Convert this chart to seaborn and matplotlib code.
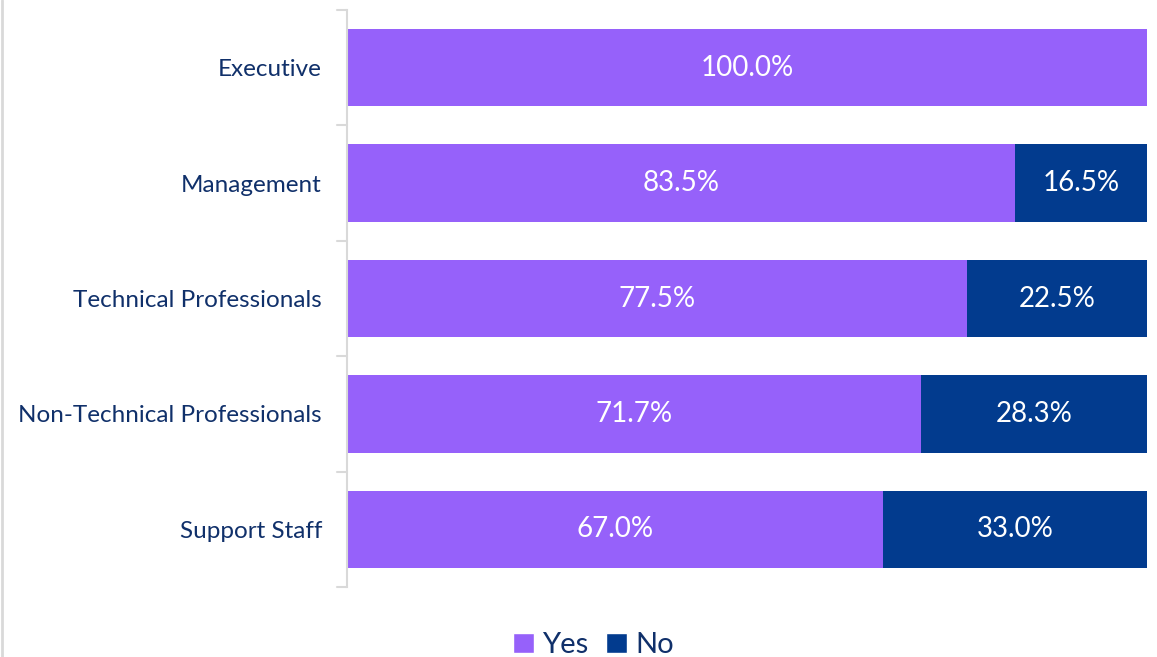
import matplotlib
matplotlib.use("Agg")
import matplotlib.pyplot as plt
from matplotlib.lines import Line2D
from matplotlib.patches import Patch
import seaborn as sns
import pandas as pd

categories = ["Executive", "Management", "Technical Professionals",
              "Non-Technical Professionals", "Support Staff"]
yes_pct = [100.0, 83.5, 77.5, 71.7, 67.0]
no_pct = [0.0, 16.5, 22.5, 28.3, 33.0]

PURPLE = "#9661FA"
NAVY = "#023B8E"
TEXT = "#10306A"
GRID = "#D9D9D9"

sns.set_theme(style="white")
plt.rcParams["font.family"] = ["Lato", "DejaVu Sans"]

df = pd.DataFrame({"category": categories, "Yes": yes_pct, "No": no_pct})
df["total"] = df["Yes"] + df["No"]

fig = plt.figure(figsize=(11.57, 6.57), dpi=100)
ax = fig.add_axes([0.2999, 0.1065, 0.6915, 0.8783])

# Stacked bars: full-length "No" bar underneath, "Yes" bar drawn on top
sns.barplot(data=df, x="total", y="category", color=NAVY, width=0.67,
            saturation=1, linewidth=0, ax=ax, orient="h")
sns.barplot(data=df, x="Yes", y="category", color=PURPLE, width=0.67,
            saturation=1, linewidth=0, ax=ax, orient="h")

ax.set_xlim(0, 100)
ax.set_ylim(len(categories) - 0.5, -0.5)
ax.set_xlabel("")
ax.set_ylabel("")
ax.set_xticks([])

for i, (y, n) in enumerate(zip(yes_pct, no_pct)):
    ax.text(y / 2, i, f"{y:.1f}%", ha="center", va="center",
            color="white", fontsize=20)
    if n > 0:
        ax.text(y + n / 2, i, f"{n:.1f}%", ha="center", va="center",
                color="white", fontsize=20)

# Category axis with tick marks at the category boundaries
for side in ["top", "right", "bottom"]:
    ax.spines[side].set_visible(False)
ax.spines["left"].set_color(GRID)
ax.spines["left"].set_linewidth(1.5)
ax.set_yticks(range(len(categories)))
ax.set_yticklabels(categories, color=TEXT, fontsize=17.5)
ax.tick_params(axis="y", length=0, pad=18)
for b in [i - 0.5 for i in range(len(categories) + 1)]:
    ax.plot([-0.012, 0], [b, b], transform=ax.get_yaxis_transform(),
            color=GRID, lw=1.5, clip_on=False)

handles = [Patch(facecolor=PURPLE, label="Yes"), Patch(facecolor=NAVY, label="No")]
leg = fig.legend(handles=handles, loc="center", bbox_to_anchor=(0.513, 0.018),
                 ncol=2, frameon=False, fontsize=21, handlelength=0.7,
                 handleheight=0.7, handletextpad=0.3, columnspacing=0.6)
for t in leg.get_texts():
    t.set_color(TEXT)

# Light frame line along the left edge of the figure
fig.add_artist(Line2D([0.0015, 0.0015], [0, 1], transform=fig.transFigure,
                      color=GRID, lw=2))

fig.savefig("out.png", dpi=100)
